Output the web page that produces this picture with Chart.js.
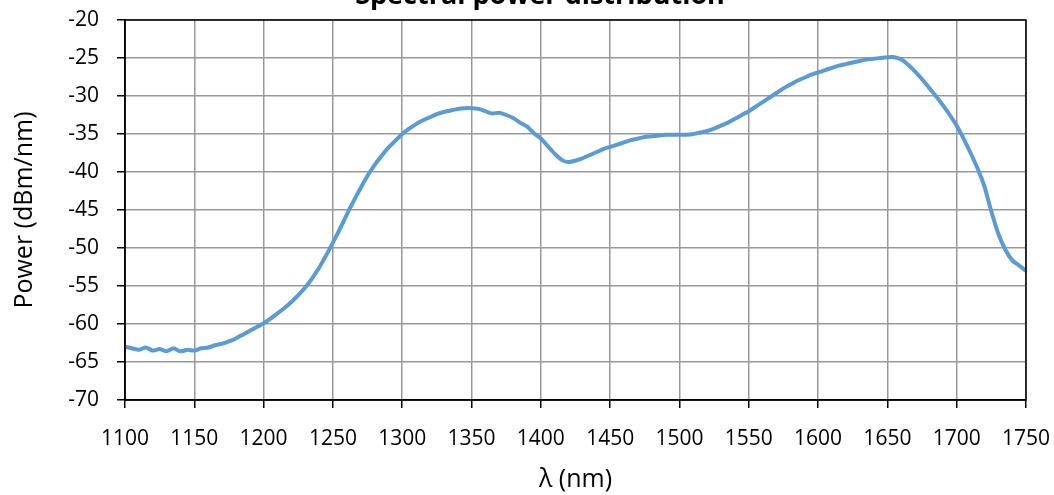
<!DOCTYPE html>
<html>
<head>
<meta charset="utf-8">
<script src="https://cdn.jsdelivr.net/npm/chart.js@4/dist/chart.umd.min.js"></script>
<style>
  html, body { margin: 0; padding: 0; background: #fff; }
  #wrap { width: 1054px; height: 495px; position: relative; }
</style>
</head>
<body>
<div id="wrap"><canvas id="chart"></canvas></div>
<script>
const chartTitle = 'Spectral power distribution';
const xTitle = 'λ (nm)';
const yTitle = 'Power (dBm/nm)';

// wavelength (nm)
const wavelengths = [
  1100, 1105, 1110, 1115, 1120, 1125, 1130, 1135, 1140, 1145,
  1150, 1155, 1160, 1165, 1170, 1175, 1180, 1185, 1190, 1195,
  1200, 1205, 1210, 1215, 1220, 1225, 1230, 1235, 1240, 1245,
  1250, 1255, 1260, 1265, 1270, 1275, 1280, 1285, 1290, 1295,
  1300, 1305, 1310, 1315, 1320, 1325, 1330, 1335, 1340, 1345,
  1350, 1355, 1360, 1365, 1370, 1375, 1380, 1385, 1390, 1395,
  1400, 1405, 1410, 1415, 1420, 1425, 1430, 1435, 1440, 1445,
  1450, 1455, 1460, 1465, 1470, 1475, 1480, 1485, 1490, 1495,
  1500, 1505, 1510, 1515, 1520, 1525, 1530, 1535, 1540, 1545,
  1550, 1555, 1560, 1565, 1570, 1575, 1580, 1585, 1590, 1595,
  1600, 1605, 1610, 1615, 1620, 1625, 1630, 1635, 1640, 1645,
  1650, 1655, 1660, 1665, 1670, 1675, 1680, 1685, 1690, 1695,
  1700, 1705, 1710, 1715, 1720, 1725, 1730, 1735, 1740, 1745,
  1750
];

// power (dBm/nm)
const power = [
  -63.0, -63.2, -63.4, -63.1, -63.5, -63.3, -63.6, -63.2, -63.6, -63.4,
  -63.5, -63.2, -63.1, -62.8, -62.6, -62.3, -61.9, -61.4, -60.9, -60.4,
  -59.9, -59.3, -58.6, -57.9, -57.1, -56.2, -55.2, -54.0, -52.6, -51.0,
  -49.3, -47.5, -45.6, -43.8, -42.1, -40.5, -39.1, -37.9, -36.8, -35.9,
  -35.0, -34.3, -33.7, -33.2, -32.8, -32.4, -32.1, -31.9, -31.7, -31.6,
  -31.6, -31.7, -32.0, -32.3, -32.2, -32.5, -32.9, -33.5, -34.0, -34.9,
  -35.6, -36.6, -37.6, -38.4, -38.7, -38.5, -38.2, -37.8, -37.4, -37.0,
  -36.7, -36.4, -36.1, -35.8, -35.6, -35.4, -35.3, -35.2, -35.1, -35.1,
  -35.1, -35.1, -35.0, -34.8, -34.6, -34.3, -33.9, -33.5, -33.0, -32.5,
  -32.0, -31.4, -30.8, -30.2, -29.6, -29.0, -28.5, -28.0, -27.6, -27.2,
  -26.9, -26.6, -26.3, -26.0, -25.8, -25.6, -25.4, -25.2, -25.1, -25.0,
  -24.9, -24.9, -25.2, -25.9, -26.8, -27.8, -28.9, -30.0, -31.2, -32.5,
  -33.9, -35.6, -37.5, -39.5, -41.9, -45.2, -48.1, -50.2, -51.6, -52.3,
  -53.0
];

const xTicks = [1100, 1150, 1200, 1250, 1300, 1350, 1400, 1450, 1500, 1550, 1600, 1650, 1700, 1750];
const yTicks = [-70, -65, -60, -55, -50, -45, -40, -35, -30, -25, -20];

const points = wavelengths.map((w, i) => ({ x: w, y: power[i] }));
const fontFamily = '"Open Sans", "Noto Sans", sans-serif';

// frame round the plot area + title that sits half above the canvas
const framePlugin = {
  id: 'frame',
  afterDraw(chart) {
    const { ctx, chartArea } = chart;
    ctx.save();
    ctx.strokeStyle = '#000';
    ctx.lineWidth = 1.5;
    ctx.strokeRect(chartArea.left, chartArea.top, chartArea.right - chartArea.left, chartArea.bottom - chartArea.top);
    ctx.fillStyle = '#000';
    ctx.font = 'bold 27px ' + fontFamily;
    ctx.textAlign = 'center';
    ctx.textBaseline = 'alphabetic';
    ctx.fillText(chartTitle, 540, 4);
    ctx.restore();
  }
};

new Chart(document.getElementById('chart'), {
  type: 'line',
  data: {
    datasets: [{
      data: points,
      borderColor: '#5b9bd5',
      borderWidth: 4,
      pointRadius: 0,
      fill: false,
      tension: 0.2
    }]
  },
  options: {
    responsive: true,
    maintainAspectRatio: false,
    animation: false,
    layout: { padding: { top: 20, right: 28, left: 6, bottom: 0 } },
    plugins: { legend: { display: false }, tooltip: { enabled: false } },
    scales: {
      x: {
        type: 'linear',
        min: 1100,
        max: 1750,
        afterBuildTicks: s => { s.ticks = xTicks.map(v => ({ value: v })); },
        afterFit: s => { s.height = 95; s.paddingLeft = 0; s.paddingRight = 0; },
        grid: { color: '#999', lineWidth: 1.5, tickLength: 8, tickColor: '#000' },
        border: { color: '#000', width: 1.5 },
        ticks: {
          color: '#000', font: { size: 21, family: fontFamily }, padding: 18, maxRotation: 0,
          callback: v => String(v)
        },
        title: { display: true, text: xTitle, color: '#000', font: { size: 25, family: fontFamily }, padding: { top: 0, bottom: 0 } }
      },
      y: {
        min: -70,
        max: -20,
        afterBuildTicks: s => { s.ticks = yTicks.map(v => ({ value: v })); },
        afterFit: s => { s.width = 119; s.paddingTop = 0; s.paddingBottom = 0; },
        grid: { color: '#999', lineWidth: 1.5, tickLength: 8, tickColor: '#000' },
        border: { color: '#000', width: 1.5 },
        ticks: { color: '#000', font: { size: 21, family: fontFamily }, padding: 18 },
        title: { display: true, text: yTitle, color: '#000', font: { size: 25, family: fontFamily }, padding: { bottom: 2 } }
      }
    }
  },
  plugins: [framePlugin]
});
</script>
</body>
</html>
